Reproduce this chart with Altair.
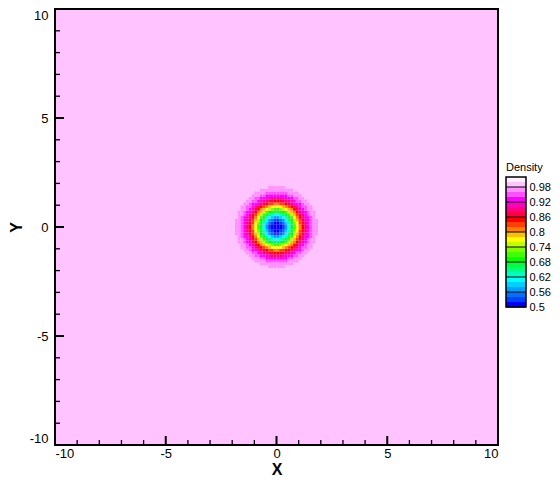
import altair as alt
import pandas as pd
import numpy as np

# ---- data ----
levels = [0.50, 0.52, 0.54, 0.56, 0.58, 0.60, 0.62, 0.64, 0.66, 0.68, 0.70, 0.72, 0.74,
          0.76, 0.78, 0.80, 0.82, 0.84, 0.86, 0.88, 0.90, 0.92, 0.94, 0.96, 0.98, 1.00]
band_colors = ["#0000FF", "#0040FF", "#0070FF", "#00A0FF", "#00D0FF", "#00FFFF",
               "#00FFC0", "#00FF80", "#00FF40", "#00FF00", "#40FF00", "#80FF00",
               "#C0FF00", "#FFFF00", "#FFC000", "#FF8000", "#FF4000", "#FF0000",
               "#FF0040", "#FF0080", "#FF00C0", "#FF00FF", "#FF50FF", "#FF90FF",
               "#FFC4FF", "#FFF0FF"]
# outer radius of each density band around the vortex centre (bands 0.50 ... 0.96)
ring_outer_radius = [0.22, 0.32, 0.40, 0.46, 0.52, 0.57, 0.63, 0.68, 0.73, 0.77, 0.82,
                     0.87, 0.92, 0.97, 1.02, 1.07, 1.13, 1.19, 1.26, 1.33, 1.41, 1.51,
                     1.64, 1.84]
background_level = 0.98
legend_labels = [0.5, 0.56, 0.62, 0.68, 0.74, 0.8, 0.86, 0.92, 0.98]
axis_ticks = [-10, -5, 0, 5, 10]
minor_ticks = [-9, -8, -7, -6, -4, -3, -2, -1, 1, 2, 3, 4, 6, 7, 8, 9]
cell_size = 0.125

FONT = "Liberation Sans"
W, H = 443, 436

# ---- tables ----
centres = np.arange(-1.9375, 1.94, cell_size)
rows = []
for cx in centres:
    for cy in centres:
        r = float(np.hypot(cx, cy))
        for k, ro in enumerate(ring_outer_radius):
            if r < ro:
                rows.append({"x": cx - cell_size / 2, "x2": cx + cell_size / 2,
                             "y": cy - cell_size / 2, "y2": cy + cell_size / 2,
                             "lev": levels[k]})
                break
cells = pd.DataFrame(rows)
bg = pd.DataFrame([{"x": -10, "x2": 10, "y": -10, "y2": 10, "lev": background_level}])

color_scale = alt.Scale(domain=levels, range=band_colors)
xs = alt.Scale(domain=[-10, 10], nice=False, zero=False)
ys = alt.Scale(domain=[-10, 10], nice=False, zero=False)

x_axis = alt.Axis(values=axis_ticks, ticks=False, domain=False, grid=False,
                  labelFont=FONT, labelFontSize=13, labelColor="black", labelPadding=2,
                  labelExpr="'' + datum.value",
                  title="X", titleFont=FONT, titleFontSize=16, titleFontWeight="bold",
                  titleColor="black", titlePadding=1)
y_axis = alt.Axis(values=axis_ticks, ticks=False, domain=False, grid=False,
                  labelFont=FONT, labelFontSize=13, labelColor="black", labelPadding=7,
                  labelExpr="'' + datum.value", labelFlush=True,
                  title="Y", titleFont=FONT, titleFontSize=16, titleFontWeight="bold",
                  titleColor="black", titlePadding=5)

background = alt.Chart(bg).mark_rect().encode(
    x=alt.X("x:Q", scale=xs, axis=x_axis), x2="x2",
    y=alt.Y("y:Q", scale=ys, axis=y_axis), y2="y2",
    color=alt.Color("lev:O", scale=color_scale, legend=None),
)
field = alt.Chart(cells).mark_rect(stroke=None).encode(
    x=alt.X("x:Q", scale=xs), x2="x2",
    y=alt.Y("y:Q", scale=ys), y2="y2",
    color=alt.Color("lev:O", scale=color_scale, legend=None),
)

maj = pd.DataFrame({"v": axis_ticks})
mnr = pd.DataFrame({"v": minor_ticks})
xmaj = alt.Chart(maj).mark_rule(color="black", strokeWidth=2).encode(
    x=alt.X("v:Q", scale=xs), y=alt.value(H), y2=alt.value(H - 9))
xmin = alt.Chart(mnr).mark_rule(color="black", strokeWidth=1.3).encode(
    x=alt.X("v:Q", scale=xs), y=alt.value(H), y2=alt.value(H - 5))
ymaj = alt.Chart(maj).mark_rule(color="black", strokeWidth=2).encode(
    y=alt.Y("v:Q", scale=ys), x=alt.value(0), x2=alt.value(9))
ymin = alt.Chart(mnr).mark_rule(color="black", strokeWidth=1.3).encode(
    y=alt.Y("v:Q", scale=ys), x=alt.value(0), x2=alt.value(5))
frame = alt.Chart(pd.DataFrame({"a": [0]})).mark_rect(
    fill=None, stroke="black", strokeWidth=2).encode(
    x=alt.value(0), x2=alt.value(W), y=alt.value(0), y2=alt.value(H))

main = alt.layer(background, field, xmaj, xmin, ymaj, ymin, frame).properties(width=W, height=H)

# ---- legend ----
leg = pd.DataFrame({"lo": levels, "hi": [v + 0.02 for v in levels], "lev": levels})
# legend scale: 0.5 -> pixel 298, 1.02 -> pixel 168 from top of panel
top_px, bot_px = 168, 298
ppu = (bot_px - top_px) / 0.52
lys = alt.Scale(domain=[0.5 - (H - bot_px) / ppu, 1.02 + top_px / ppu], nice=False, zero=False)

bands = alt.Chart(leg).mark_rect().encode(
    x=alt.value(0), x2=alt.value(20),
    y=alt.Y("lo:Q", scale=lys,
            axis=alt.Axis(orient="right", values=legend_labels, ticks=False, domain=False,
                          grid=False, labelFont=FONT, labelFontSize=11, labelColor="black",
                          labelPadding=3, labelExpr="'' + datum.value", title=None)),
    y2="hi",
    color=alt.Color("lev:O", scale=color_scale, legend=None),
)
lines = alt.Chart(pd.DataFrame({"v": legend_labels})).mark_rule(color="black", strokeWidth=1).encode(
    y=alt.Y("v:Q", scale=lys), x=alt.value(0), x2=alt.value(20))
box = alt.Chart(pd.DataFrame({"a": [0.5], "b": [1.02]})).mark_rect(
    fill=None, stroke="black", strokeWidth=1.5).encode(
    y=alt.Y("a:Q", scale=lys), y2="b", x=alt.value(0), x2=alt.value(20))
title = alt.Chart(pd.DataFrame({"t": ["Density"], "y": [1.02]})).mark_text(
    font=FONT, fontSize=11, align="left", baseline="bottom", dy=-4, color="black").encode(
    text="t:N", y=alt.Y("y:Q", scale=lys), x=alt.value(0))

legend = alt.layer(bands, lines, box, title).properties(width=20, height=H)

chart = alt.hconcat(main, legend, spacing=6).properties(
    padding={"left": 0, "top": 0, "right": 0, "bottom": 0}
).configure_view(stroke=None)

chart.save("out.html", embed_options={"renderer": "svg", "actions": False})
